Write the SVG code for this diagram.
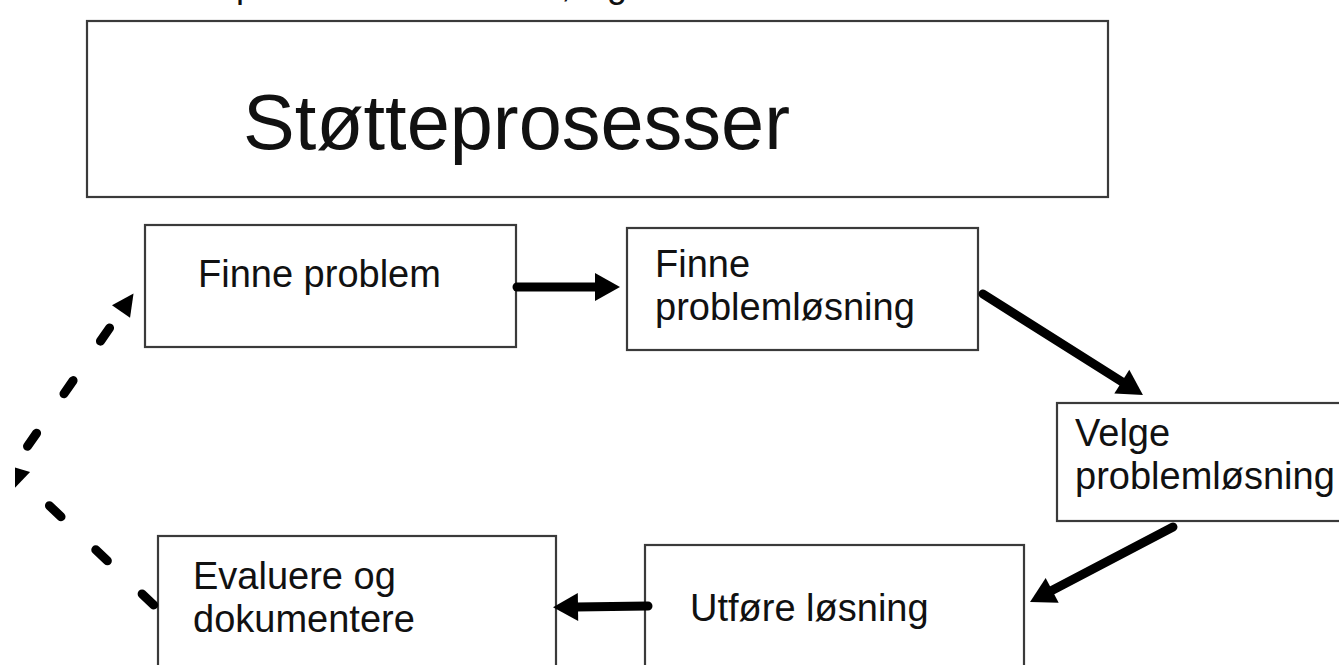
<svg xmlns="http://www.w3.org/2000/svg" width="1339" height="665" viewBox="0 0 1339 665">
  <style>
    .box { fill: #ffffff; stroke: #3a3a3a; stroke-width: 2.2; }
    .label { font-family: "Liberation Sans", Arial, sans-serif; font-size: 38px; fill: #111111; }
    .title { font-family: "Liberation Sans", Arial, sans-serif; font-size: 77.5px; fill: #111111; }
    .solid { fill: none; stroke: #000000; stroke-width: 9; stroke-linecap: round; }
    .dashed { fill: none; stroke: #000000; stroke-width: 9; stroke-linecap: round; stroke-dasharray: 16 48; }
  </style>
  <defs>
    <marker id="head" markerUnits="userSpaceOnUse" viewBox="0 0 26 28" markerWidth="26" markerHeight="28" refX="2" refY="14" orient="auto" overflow="visible">
      <path d="M0,0 L25,14 L0,28 Z" fill="#000000"/>
    </marker>
    <marker id="headDash" markerUnits="userSpaceOnUse" viewBox="0 0 22 22" markerWidth="22" markerHeight="22" refX="0" refY="11" orient="auto" overflow="visible">
      <path d="M0,0 L22,11 L0,22 Z" fill="#000000"/>
    </marker>
    <clipPath id="leftEdge">
      <rect x="15" y="0" width="1324" height="665"/>
    </clipPath>
  </defs>

  <rect x="0" y="0" width="1339" height="665" fill="#ffffff"/>

  <!-- heading line running above the visible area: only descenders show -->
  <g id="heading-fragment" class="label" style="font-size:36px">
    <text x="236" y="-3">p</text>
    <text x="561" y="-3">,</text>
    <text x="607" y="-3">g</text>
  </g>

  <g id="stotteprosesser">
    <rect class="box" x="87" y="21" width="1021" height="176"/>
    <text class="title" x="243" y="149">Støtteprosesser</text>
  </g>

  <g id="finne-problem">
    <rect class="box" x="145" y="225" width="371" height="122"/>
    <text class="label" x="198" y="287">Finne problem</text>
  </g>

  <g id="finne-problemlosning">
    <rect class="box" x="627" y="228" width="351" height="122"/>
    <text class="label" x="655" y="277">Finne</text>
    <text class="label" x="655" y="320">problemløsning</text>
  </g>

  <g id="velge-problemlosning">
    <rect class="box" x="1057" y="403" width="300" height="118"/>
    <text class="label" x="1075" y="446">Velge</text>
    <text class="label" x="1075" y="489">problemløsning</text>
  </g>

  <g id="utfore-losning">
    <rect class="box" x="645" y="545" width="379" height="140"/>
    <text class="label" x="690" y="621">Utføre løsning</text>
  </g>

  <g id="evaluere-dokumentere">
    <rect class="box" x="158" y="536" width="398" height="150"/>
    <text class="label" x="193" y="589">Evaluere og</text>
    <text class="label" x="193" y="632">dokumentere</text>
  </g>

  <g id="connectors">
    <path class="solid" d="M517,287 L597,287" marker-end="url(#head)"/>
    <path class="solid" d="M983,294 L1123.5,382.7" marker-end="url(#head)"/>
    <path class="solid" d="M1173,527 L1050.4,591.3" marker-end="url(#head)"/>
    <path class="solid" d="M648,606 L576,607" marker-end="url(#head)"/>
    <!-- feedback loop back to the start -->
    <path class="dashed" d="M153.7,605 L22.5,480" marker-end="url(#headDash)" clip-path="url(#leftEdge)"/>
    <path class="dashed" d="M27.5,446.3 L121,311.5" marker-end="url(#headDash)"/>
  </g>
</svg>
